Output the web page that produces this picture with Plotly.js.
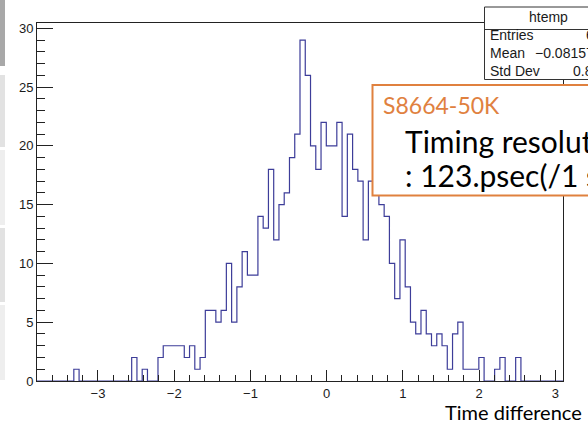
<!DOCTYPE html>
<html>
<head>
<meta charset="utf-8">
<script src="https://cdn.plot.ly/plotly-3.0.1.min.js"></script>
<style>
html,body{margin:0;padding:0;background:#fff;overflow:hidden;}
#chart{width:588px;height:423px;}
</style>
</head>
<body>
<div id="chart"></div>
<script>
// Histogram definition (ROOT "htemp", 100 bins)
const histName = "htemp";
const xMin = -3.8;
const xMax = 3.1;
const nBins = 100;
const binCounts = [
  0,0,0,0,0,0,0,1,0,0,
  0,0,0,0,0,0,0,0,2,0,
  1,0,0,2,3,3,3,3,2,3,
  1,2,6,6,5,6,10,5,8,11,
  9,9,14,13,18,12,15,16,19,21,
  29,26,20,18,22,20,20,22,14,21,
  18,17,12,17,16,15,14,10,7,12,
  8,5,4,6,4,3,4,3,1,4,
  5,1,1,1,2,0,0,1,2,0,
  0,2,0,0,0,0,0,0,0,0
];
const statLabels = ["Entries", "Mean", "Std Dev"];
const statValues = ["636", "\u22120.08157", "0.8623"];
const xTickVals = [-3, -2, -1, 0, 1, 2, 3];
const yTickVals = [0, 5, 10, 15, 20, 25, 30];
const boxTitle = "S8664-50K";
const boxLine1 = "Timing resolution";
const boxLine2 = ": 123.psec(/1 side)";
const xTitle = "Time difference";

// build step outline from bin edges
const bw = (xMax - xMin) / nBins;
const sx = [xMin], sy = [0];
for (let i = 0; i < nBins; i++) { sx.push(xMin + i * bw); sy.push(binCounts[i]); }
sx.push(xMax); sy.push(0);

const W = 588, H = 423, L = 37, R = 25, T = 23, B = 42;
const pw = W - L - R, ph = H - T - B;
const px = x => (x - L) / pw;
const py = y => (H - B - y) / ph;

const shapes = [];
// left-edge gray strips (slide sidebar)
const strips = [[0,66,'#a8a8a8'],[75,147,'#e2e2e2'],[150,225,'#eeeeee'],[228,302,'#e2e2e2'],[305,380,'#eeeeee']];
strips.forEach(s => shapes.push({type:'rect', xref:'paper', yref:'paper', x0:px(0), x1:px(5), y0:py(s[1]), y1:py(s[0]), fillcolor:s[2], line:{width:0}, layer:'above'}));
// stats box
shapes.push({type:'rect', xref:'paper', yref:'paper', x0:px(484.5), x1:px(625), y0:py(79.5), y1:py(7), fillcolor:'#fff', line:{color:'#333', width:1}, layer:'above'});
shapes.push({type:'line', xref:'paper', yref:'paper', x0:px(484.5), x1:px(625), y0:py(29.5), y1:py(29.5), line:{color:'#333', width:1}, layer:'above'});
// orange text box
shapes.push({type:'rect', xref:'paper', yref:'paper', x0:px(372.5), x1:px(640), y0:py(195.5), y1:py(85), fillcolor:'#fff', line:{color:'#e0813f', width:2}, layer:'above'});

const sf = {family:'"Liberation Sans", Arial, Helvetica, sans-serif', size:14, color:'#1a1a1a'};
const annotations = [
  {xref:'paper', yref:'paper', x:px(548), y:py(17), text:histName, showarrow:false, xanchor:'center', yanchor:'middle', font:sf},
];
const rowY = [35, 53, 71];
const valX = [584, 533, 571];
statLabels.forEach((lab, i) => {
  annotations.push({xref:'paper', yref:'paper', x:px(488), y:py(rowY[i]), text:lab, showarrow:false, xanchor:'left', yanchor:'middle', font:sf});
  annotations.push({xref:'paper', yref:'paper', x:px(valX[i]), y:py(rowY[i]), text:statValues[i], showarrow:false, xanchor:'left', yanchor:'middle', font:sf});
});
const gill = 'Lato, "Open Sans", "DejaVu Sans", sans-serif';
annotations.push({xref:'paper', yref:'paper', x:px(381), y:py(105), text:boxTitle, showarrow:false, xanchor:'left', yanchor:'middle', font:{family:gill, size:23, color:'#e0813f'}});
annotations.push({xref:'paper', yref:'paper', x:px(403), y:py(141), text:boxLine1, showarrow:false, xanchor:'left', yanchor:'middle', font:{family:gill, size:30, color:'#000'}});
annotations.push({xref:'paper', yref:'paper', x:px(403), y:py(175), text:boxLine2, showarrow:false, xanchor:'left', yanchor:'middle', font:{family:gill, size:30, color:'#000'}});
annotations.push({xref:'paper', yref:'paper', x:px(443), y:py(412), text:xTitle, showarrow:false, xanchor:'left', yanchor:'middle', font:{family:gill, size:20, color:'#000'}});

const trace = {
  type:'scatter', mode:'lines', x:sx, y:sy,
  line:{shape:'hv', color:'#3d3d99', width:1.2},
  hoverinfo:'skip', showlegend:false, cliponaxis:true
};

const axFont = {family:'"Liberation Sans", Arial, Helvetica, sans-serif', size:13, color:'#1a1a1a'};
const layout = {
  width:W, height:H,
  margin:{l:L, r:R, t:T, b:B, pad:0},
  paper_bgcolor:'#fff', plot_bgcolor:'#fff',
  showlegend:false,
  xaxis:{range:[xMin, xMax], tickmode:'array', tickvals:xTickVals, ticks:'inside', ticklen:11, tickwidth:1, tickcolor:'#222',
    minor:{dtick:0.2, ticks:'inside', ticklen:6, tickwidth:1, tickcolor:'#222', showgrid:false},
    showgrid:false, zeroline:false, showline:true, linecolor:'#222', linewidth:1, mirror:true, tickfont:axFont, fixedrange:true},
  yaxis:{range:[0, 30.45], tickmode:'array', tickvals:yTickVals, ticks:'inside', ticklen:16, tickwidth:1, tickcolor:'#222',
    minor:{dtick:1, ticks:'inside', ticklen:8, tickwidth:1, tickcolor:'#222', showgrid:false},
    showgrid:false, zeroline:false, showline:true, linecolor:'#222', linewidth:1, mirror:true, tickfont:axFont, fixedrange:true},
  shapes:shapes,
  annotations:annotations
};
Plotly.newPlot('chart', [trace], layout, {staticPlot:true, displayModeBar:false});
</script>
</body>
</html>
